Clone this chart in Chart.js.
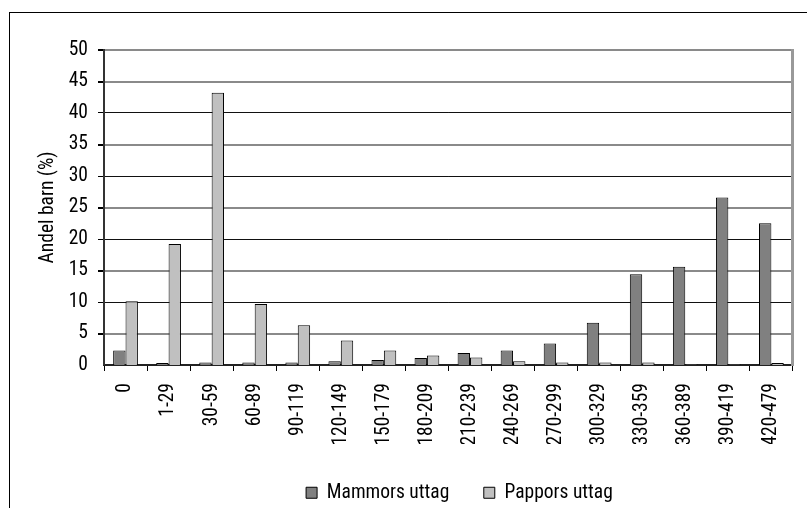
<!DOCTYPE html>
<html>
<head>
<meta charset="utf-8">
<script src="https://cdn.jsdelivr.net/npm/chart.js@4/dist/chart.umd.min.js"></script>
<style>
  html, body { margin: 0; padding: 0; background: #fff; overflow: hidden; }
  #frame { position: absolute; left: 9px; top: 12px; width: 900px; height: 600px; border: 1px solid #000; box-sizing: border-box; }
  #wrap { position: absolute; left: 0; top: 0; width: 807px; height: 508px; }
</style>
</head>
<body>
<div id="frame"></div>
<div id="wrap"><canvas id="c" width="807" height="508"></canvas></div>
<script>
const categories = ['0','1-29','30-59','60-89','90-119','120-149','150-179','180-209','210-239','240-269','270-299','300-329','330-359','360-389','390-419','420-479'];
const mammor = [2.3, 0.3, 0.4, 0.4, 0.4, 0.6, 0.8, 1.1, 1.9, 2.3, 3.4, 6.7, 14.4, 15.6, 26.6, 22.5];
const pappor = [10.1, 19.2, 43.2, 9.7, 6.3, 3.9, 2.3, 1.5, 1.2, 0.6, 0.4, 0.4, 0.4, 0.1, 0.1, 0.3];
const yTicks = [0, 5, 10, 15, 20, 25, 30, 35, 40, 45, 50];
const seriesNames = ['Mammors uttag', 'Pappors uttag'];
const yTitle = 'Andel barn (%)';

const FONT = '"Roboto Condensed", "Liberation Sans Narrow", sans-serif';
const FS = 19.5;
Chart.defaults.font.family = FONT;
Chart.defaults.color = '#000';

function grayLine(v) { return v === 50 || (v % 10 === 5); }

const chart = new Chart(document.getElementById('c'), {
  type: 'bar',
  data: {
    labels: categories,
    datasets: [
      { label: seriesNames[0], data: mammor, backgroundColor: '#808080', borderColor: '#000', borderWidth: 1, categoryPercentage: 0.575, barPercentage: 1 },
      { label: seriesNames[1], data: pappor, backgroundColor: '#c0c0c0', borderColor: '#000', borderWidth: 1, categoryPercentage: 0.575, barPercentage: 1 }
    ]
  },
  options: {
    responsive: false,
    animation: false,
    devicePixelRatio: 1,
    layout: { padding: { left: 0, top: 50, right: 7, bottom: 0 } },
    plugins: {
      tooltip: { enabled: false },
      legend: {
        position: 'bottom',
        fullSize: false,
        labels: {
          font: { size: FS },
          color: '#000',
          boxWidth: 11,
          boxHeight: 11,
          padding: 34.5,
          generateLabels: (chart) => chart.data.datasets.map((ds, i) => ({
            text: ds.label, fillStyle: ds.backgroundColor, strokeStyle: '#000', lineWidth: 1, datasetIndex: i, fontColor: '#000'
          }))
        }
      }
    },
    scales: {
      x: {
        grid: { offset: true, drawOnChartArea: false, tickLength: 6, tickColor: '#000', tickWidth: 1 },
        border: { color: '#222', width: 2 },
        ticks: { font: { size: FS }, color: '#000', minRotation: 90, maxRotation: 90, padding: 12, autoSkip: false },
        afterFit: (s) => { s.height = 79; }
      },
      y: {
        min: 0, max: 50,
        afterBuildTicks: (s) => { s.ticks = yTicks.map(v => ({ value: v })); },
        ticks: { font: { size: FS }, color: '#000', padding: 10 },
        grid: {
          tickLength: 6,
          tickColor: '#000',
          color: (ctx) => grayLine(ctx.tick.value) ? '#8a8a8a' : '#111',
          lineWidth: (ctx) => ctx.tick.value === 0 ? 0 : (grayLine(ctx.tick.value) ? 2 : 1)
        },
        border: { color: '#333', width: 2 },
        title: { display: true, text: yTitle, font: { size: FS }, color: '#000', padding: { top: 36, bottom: 0 } },
        afterFit: (s) => { s.width = 104; }
      },
      y2: {
        position: 'right',
        min: 0, max: 50,
        ticks: { display: false },
        grid: { display: false },
        border: { color: '#999', width: 3 },
        afterFit: (s) => { s.width = 0; }
      }
    }
  }
});
const legendDraw = chart.legend.draw.bind(chart.legend);
chart.legend.draw = function () {
  const ctx = this.ctx;
  ctx.save();
  ctx.translate(11, 4.5);
  legendDraw();
  ctx.restore();
};
chart.update();
</script>
</body>
</html>
